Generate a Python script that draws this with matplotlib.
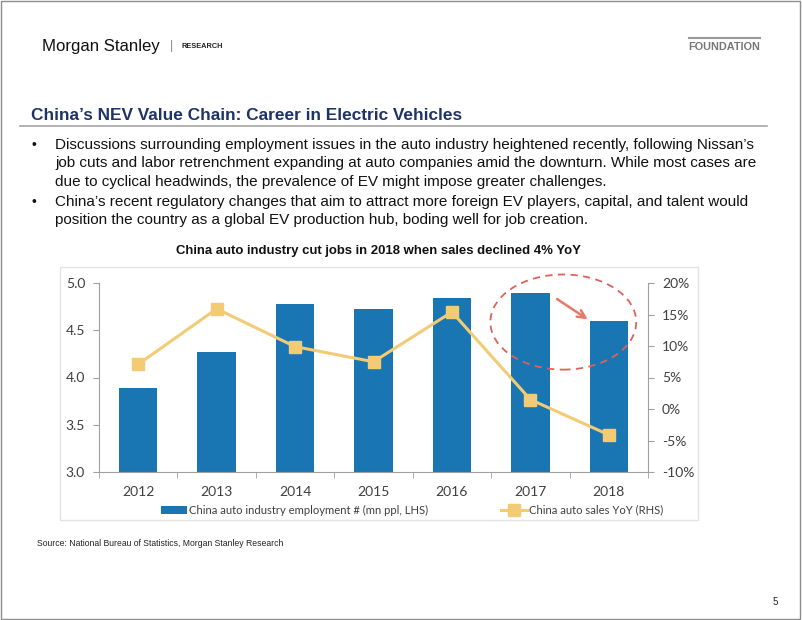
import matplotlib.pyplot as plt
import numpy as np
from matplotlib.patches import Rectangle, Ellipse
from matplotlib.ticker import FuncFormatter, MultipleLocator

years = ['2012', '2013', '2014', '2015', '2016', '2017', '2018']
employment = [3.89, 4.27, 4.78, 4.73, 4.84, 4.89, 4.60]
sales_yoy = [7.1, 15.9, 9.9, 7.5, 15.4, 1.5, -4.1]

bar_label = 'China auto industry employment # (mn ppl, LHS)'
line_label = 'China auto sales YoY (RHS)'
chart_title = 'China auto industry cut jobs in 2018 when sales declined 4% YoY'
page_title = 'China\u2019s NEV Value Chain: Career in Electric Vehicles'
bullet_lines = [
	('\u2022', 'Discussions surrounding employment issues in the auto industry heightened recently, following Nissan\u2019s'),
	('', 'job cuts and labor retrenchment expanding at auto companies amid the downturn. While most cases are'),
	('', 'due to cyclical headwinds, the prevalence of EV might impose greater challenges.'),
	('\u2022', 'China\u2019s recent regulatory changes that aim to attract more foreign EV players, capital, and talent would'),
	('', 'position the country as a global EV production hub, boding well for job creation.'),
]
source = 'Source: National Bureau of Statistics, Morgan Stanley Research'

W, H = 802, 620
BAR = '#1A76B2'
LINE = '#F2CB74'
GREY = '#404040'
SANS = ['Liberation Sans', 'DejaVu Sans']
CHART_FONT = ['Lato', 'DejaVu Sans']


def fx(x):
	return x / W


def fy(y):
	return 1 - y / H


fig = plt.figure(figsize=(W / 100, H / 100), dpi=100)

# slide frame
fig.add_artist(Rectangle((0.001, 0.002), 0.997, 0.996, transform=fig.transFigure,
	fill=False, edgecolor='#8C8C8C', linewidth=1))

# header
fig.text(fx(42), fy(46), 'Morgan Stanley', family=SANS, fontsize=12.1, color='#111111', va='center')
fig.text(fx(170), fy(46), '|', family=SANS, fontsize=9, color='#888888', va='center')
fig.text(fx(181), fy(46), 'RESEARCH', family=SANS, fontsize=5.3, color='#222222', va='center', weight='bold')
fig.add_artist(plt.Line2D([fx(689), fx(760)], [fy(38), fy(38)], transform=fig.transFigure, color='#999999', lw=1.5))
fig.text(fx(760), fy(47), 'FOUNDATION', family=SANS, fontsize=7.8, color='#777777', va='center', ha='right', weight='bold')

# page title
fig.text(fx(31), fy(115), page_title, family=SANS, fontsize=12.45, color='#1F3466', weight='bold', va='center')
fig.add_artist(plt.Line2D([fx(20), fx(767)], [fy(126), fy(126)], transform=fig.transFigure, color='#A6A6A6', lw=1.2))

# bullets
for i, (mark, line) in enumerate(bullet_lines):
	y = [145, 163, 182, 202, 220][i]
	if mark:
		fig.text(fx(31), fy(y), mark, family=SANS, fontsize=10, color='#111111', va='center')
	fig.text(fx(55), fy(y), line, family=SANS, fontsize=11.0, color='#111111', va='center')

# chart title and frame
fig.text(fx(378), fy(251), chart_title, family=SANS, fontsize=9.45, weight='bold', color='#111111', ha='center', va='center')
fig.add_artist(Rectangle((fx(60), fy(520)), fx(698) - fx(60), fy(267) - fy(520), transform=fig.transFigure,
	fill=False, edgecolor='#E3E3E3', linewidth=1))

# chart
ax = fig.add_axes([fx(99), fy(472), fx(648) - fx(99), fy(283) - fy(472)])
x = np.arange(len(years))
bars = ax.bar(x, employment, width=0.49, color=BAR, label=bar_label, zorder=2)
ax.set_ylim(3.0, 5.0)
ax.set_xlim(-0.5, len(years) - 0.5)
ax.yaxis.set_major_locator(MultipleLocator(0.5))
ax.yaxis.set_major_formatter(FuncFormatter(lambda v, p: f'{v:.1f}'))
ax.set_xticks(x)
ax.set_xticklabels(years)
ax.set_xticks(np.arange(-0.5, len(years), 1.0), minor=True)
ax.tick_params(axis='x', which='major', length=0, pad=10)
ax.tick_params(axis='x', which='minor', length=4, color='#A0A0A0', direction='out')
ax.tick_params(axis='y', length=4, color='#A0A0A0', pad=6)
for lab in ax.get_xticklabels() + ax.get_yticklabels():
	lab.set_family(CHART_FONT)
	lab.set_fontsize(10)
	lab.set_color(GREY)
for side in ['top', 'right']:
	ax.spines[side].set_visible(False)
for side in ['left', 'bottom']:
	ax.spines[side].set_color('#A0A0A0')

ax2 = ax.twinx()
ln, = ax2.plot(x, sales_yoy, color=LINE, lw=2.2, marker='s', markersize=8,
	markerfacecolor=LINE, markeredgecolor=LINE, label=line_label, zorder=3)
ax2.set_ylim(-10, 20)
ax2.yaxis.set_major_locator(MultipleLocator(5))
ax2.yaxis.set_major_formatter(FuncFormatter(lambda v, p: f'{v:.0f}%'))
ax2.tick_params(axis='y', length=4, color='#A0A0A0', pad=6)
for lab in ax2.get_yticklabels():
	lab.set_family(CHART_FONT)
	lab.set_fontsize(10)
	lab.set_color(GREY)
for side in ['top', 'left', 'bottom']:
	ax2.spines[side].set_visible(False)
ax2.spines['right'].set_color('#A0A0A0')

# annotation ellipse and arrow
ax2.add_patch(Ellipse((5.42, 13.8), 1.86, 15.1, fill=False, edgecolor='#E0605A',
	linestyle=(0, (4, 3)), lw=1.3, clip_on=False, zorder=4))
ax2.annotate('', xy=(5.76, 14.0), xytext=(5.31, 17.7),
	arrowprops=dict(arrowstyle='->', color='#E8786A', lw=1.8, mutation_scale=14))

leg = fig.legend([bars, ln], [bar_label, line_label], loc='center', bbox_to_anchor=(fx(412), fy(510)),
	ncol=2, frameon=False, handlelength=2.3, columnspacing=6.5, handletextpad=0.15,
	prop={'family': CHART_FONT, 'size': 8.1})
for t in leg.get_texts():
	t.set_color(GREY)

# footer
fig.text(fx(37), fy(543), source, family=SANS, fontsize=6.25, color='#222222', va='center')
fig.text(fx(778), fy(602), '5', family=SANS, fontsize=7, color='#222222', va='center', ha='right')

fig.savefig('out.png', dpi=100)
